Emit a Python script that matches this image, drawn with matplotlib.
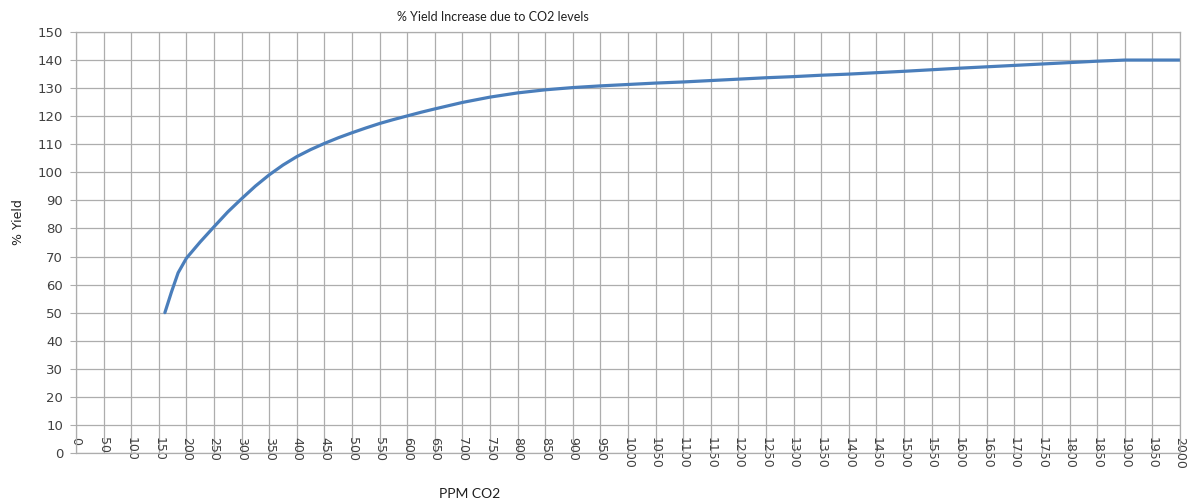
import matplotlib
matplotlib.use("Agg")
import matplotlib.pyplot as plt

# values
ppm = [161, 173, 185, 200, 225, 250, 275, 300, 325, 350, 375, 400, 425, 450,
       475, 500, 525, 550, 575, 600, 625, 650, 700, 750, 800, 850, 900, 950,
       1000, 1050, 1100, 1150, 1200, 1250, 1300, 1350, 1400, 1500, 1600,
       1700, 1800, 1850, 1900, 1950, 2000]
yield_pct = [50, 57.4, 64.2, 69.4, 75.2, 80.6, 85.9, 90.6, 95.1, 99.1, 102.6,
             105.6, 108.1, 110.3, 112.3, 114.1, 115.8, 117.4, 118.8, 120.1,
             121.4, 122.6, 124.9, 126.8, 128.3, 129.4, 130.2, 130.8, 131.3,
             131.8, 132.2, 132.7, 133.2, 133.7, 134.1, 134.6, 135.0, 136.0,
             137.1, 138.1, 139.1, 139.6, 140.0, 140.0, 140.0]

x_ticks = list(range(0, 2001, 50))
y_ticks = list(range(0, 151, 10))

grid_col = "#adadad"
line_col = "#4a7ebb"

fig = plt.figure(figsize=(11.92, 5.01), dpi=100)
ax = fig.add_axes([76 / 1192, 1 - 453 / 501, 1104 / 1192, 421 / 501])

ax.plot(ppm, yield_pct, color=line_col, linewidth=2.3,
        solid_capstyle="round", solid_joinstyle="round")

ax.set_xlim(0, 2000)
ax.set_ylim(0, 150)
ax.set_xticks(x_ticks)
ax.set_xticklabels([str(v) for v in x_ticks], rotation=-90, ha="center",
                   va="top", fontsize=9, family="DejaVu Sans", color="#404040")
ax.set_yticks(y_ticks)
ax.set_yticklabels([str(v) for v in y_ticks], fontsize=9.5,
                   family="DejaVu Sans", color="#404040")

ax.tick_params(axis="x", length=0, pad=-11.5)
ax.tick_params(axis="y", length=4.3, width=0.8, color=grid_col, pad=5)

ax.grid(True, color=grid_col, linewidth=0.9)
ax.set_axisbelow(True)
for s in ax.spines.values():
    s.set_color(grid_col)
    s.set_linewidth(0.9)

fig.text(493 / 1192, 1 - 17 / 501, "% Yield Increase due to CO2 levels",
         ha="center", va="center", fontsize=9, family="Lato", color="#202020")
fig.text(470 / 1192, 1 - 494 / 501, "PPM CO2", ha="center", va="center",
         fontsize=10, family="Lato", color="#202020")
fig.text(18 / 1192, 1 - 222 / 501, "% Yield", ha="center", va="center",
         rotation=90, fontsize=9, family="DejaVu Sans", color="#202020")

fig.savefig("out.png", dpi=100)
